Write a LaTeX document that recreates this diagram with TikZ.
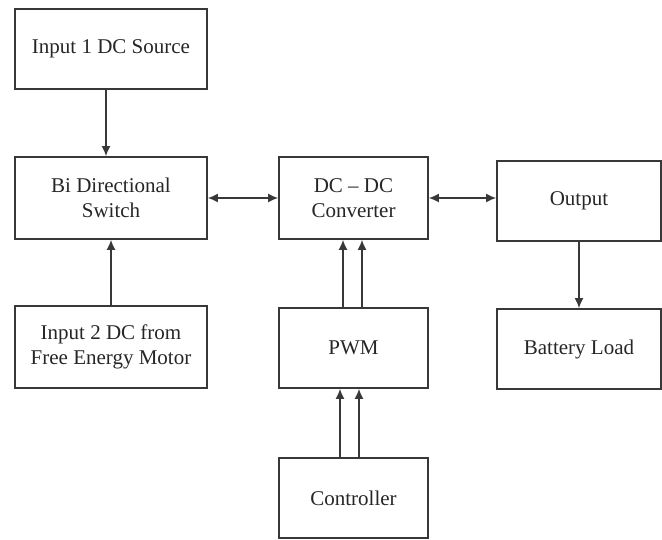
\documentclass[tikz,border=0pt]{standalone}
\usepackage{fontspec}
\setmainfont{Liberation Serif}
\usetikzlibrary{arrows.meta}
\colorlet{block line color}{black!78}
\tikzset{
    x={1pt},
    y={-1pt},
    block/.style 2 args={
        draw=block line color,
        line width={1.6pt},
        rectangle,
        align=center,
        font={\fontsize{21}{25.5}\selectfont},
        text=black!85,
        inner sep=0pt,
        minimum width={#1},
        minimum height={#2},
    },
    link/.style={
        draw=block line color,
        line width={1.6pt},
        -{Latex[length=10pt,width=9pt]},
    },
    both link/.style={
        link,
        {Latex[length=10pt,width=9pt]}-{Latex[length=10pt,width=9pt]},
    },
}

\begin{document}
\begin{tikzpicture}
\useasboundingbox (0,0) rectangle (662,540);
% blocks
\node[block={192}{80}] (input one) at (111,49) {Input 1 DC Source};
\node[block={192}{82}] (switch) at (111,198) {Bi Directional\\Switch};
\node[block={192}{82}] (input two) at (111,347) {Input 2 DC from\\Free Energy Motor};
\node[block={149}{82}] (converter) at (353.5,198) {DC -- DC\\Converter};
\node[block={149}{80}] (pwm) at (353.5,348) {PWM};
\node[block={149}{80}] (controller) at (353.5,498) {Controller};
\node[block={164}{80}] (output) at (579,201) {Output};
\node[block={164}{80}] (battery) at (579,349) {Battery Load};
% links
\path[link] ([xshift=-5]input one.south) -- ([xshift=-5]switch.north);
\path[link] (input two.north) -- (switch.south);
\path[both link] (switch.east) -- (converter.west);
\path[both link] (converter.east) -- (converter.east -| output.west);
\path[link] (output.south) -- (battery.north);
\path[link] ([xshift=-10.5]pwm.north) -- ([xshift=-10.5]converter.south);
\path[link] ([xshift=8.5]pwm.north) -- ([xshift=8.5]converter.south);
\path[link] ([xshift=-13.5]controller.north) -- ([xshift=-13.5]pwm.south);
\path[link] ([xshift=5.5]controller.north) -- ([xshift=5.5]pwm.south);
\end{tikzpicture}
\end{document}
